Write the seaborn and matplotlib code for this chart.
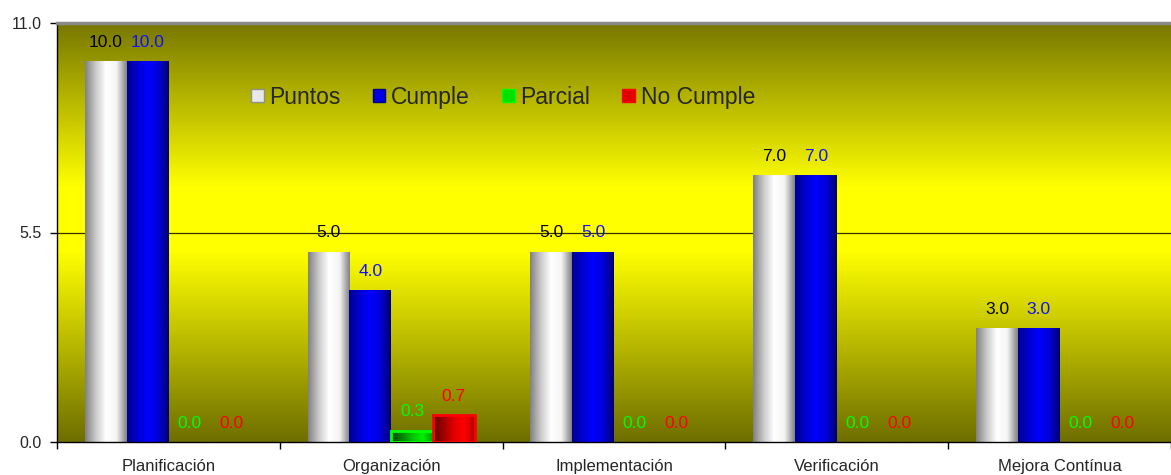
import numpy as np
import pandas as pd
import matplotlib
matplotlib.use("Agg")
import matplotlib.pyplot as plt
import seaborn as sns
from matplotlib.colors import LinearSegmentedColormap
from matplotlib.patches import Patch

categories = ["Planificación", "Organización", "Implementación", "Verificación", "Mejora Contínua"]
series_names = ["Puntos", "Cumple", "Parcial", "No Cumple"]
puntos = [10.0, 5.0, 5.0, 7.0, 3.0]
cumple = [10.0, 4.0, 5.0, 7.0, 3.0]
parcial = [0.0, 0.3, 0.0, 0.0, 0.0]
no_cumple = [0.0, 0.7, 0.0, 0.0, 0.0]
y_ticks = [0.0, 5.5, 11.0]

sns.set_theme(style="white")
plt.rcParams['font.family'] = ['Liberation Sans', 'DejaVu Sans']

rows = []
for name, vals in zip(series_names, [puntos, cumple, parcial, no_cumple]):
    for c, v in zip(categories, vals):
        rows.append({"cat": c, "serie": name, "val": v})
df = pd.DataFrame(rows)

mid_colors = {"Puntos": "#d0d0d0", "Cumple": "#0000e0", "Parcial": "#00c000", "No Cumple": "#d00000"}
label_colors = {"Puntos": "#000000", "Cumple": "#1010ff", "Parcial": "#00ff00", "No Cumple": "#ff0000"}
gradients = {
    "Puntos": ["#808080", "#c8c8c8", "#ffffff", "#f4f4f4", "#808080"],
    "Cumple": ["#000090", "#0000d0", "#0000ff", "#0000d8", "#000070"],
    "Parcial": ["#004000", "#008000", "#00c000", "#00f000", "#00a000"],
    "No Cumple": ["#600000", "#a00000", "#e00000", "#ff0000", "#b00000"],
}
edge_colors = {"Parcial": "#00ff00", "No Cumple": "#ff0000"}

fig = plt.figure(figsize=(11.71, 4.75), dpi=100)
ax = fig.add_axes([57/1171, 33/475, 1114/1171, 419/475])

sns.barplot(data=df, x="cat", y="val", hue="serie", hue_order=series_names,
            palette=mid_colors, width=0.75, saturation=1, ax=ax, legend=False,
            errorbar=None, zorder=2, linewidth=0, edgecolor="none")

ax.set_xlim(-0.5, len(categories) - 0.5)
ax.set_ylim(0, 11)

# background gradient
bg_cmap = LinearSegmentedColormap.from_list(
    "bg", [(0.0, "#6e6e00"), (5.0/11, "#ffff00"), (6.7/11, "#ffff00"), (1.0, "#777700")])
grad = np.linspace(0, 1, 512).reshape(-1, 1)
ax.imshow(grad, cmap=bg_cmap, aspect="auto", origin="lower",
          extent=[-0.5, len(categories) - 0.5, 0, 11], zorder=-2, interpolation="bilinear")
ax.axhline(5.5, color="#303000", lw=0.9, zorder=0.5)

# gradient fill of bars
for name, cont in zip(series_names, ax.containers):
    cmap = LinearSegmentedColormap.from_list(name, gradients[name])
    hg = np.linspace(0, 1, 256).reshape(1, -1)
    for bar in cont:
        h = bar.get_height()
        if h <= 0:
            continue
        x0 = bar.get_x(); w = bar.get_width()
        im = ax.imshow(hg, cmap=cmap, aspect="auto", extent=[x0, x0 + w, 0, h],
                       zorder=2.5, interpolation="bilinear")
        im.set_clip_path(bar)
        if name in edge_colors:
            bar.set_edgecolor(edge_colors[name])
            bar.set_linewidth(2)
            bar.set_facecolor("none")
            bar.set_zorder(3)
    ax.bar_label(cont, fmt="%.1f", padding=8, color=label_colors[name], fontsize=12.5, zorder=4)

ax.set_xlim(-0.5, len(categories) - 0.5)
ax.set_ylim(0, 11)

ax.set_yticks(y_ticks)
ax.set_yticklabels([f"{v:.1f}" for v in y_ticks], fontsize=11.5)
ax.set_xticks(range(len(categories)))
ax.set_xticklabels(categories, fontsize=12)
ax.set_xticks(np.arange(-0.5, len(categories)), minor=True)
ax.tick_params(axis="x", which="major", length=0, pad=12)
ax.tick_params(axis="x", which="minor", length=5, width=1, color="black", direction="out", bottom=True)
ax.tick_params(axis="y", length=5, width=1, color="black", direction="out", left=True, pad=6)
ax.set_xlabel("")
ax.set_ylabel("")
ax.grid(False)

for s in ["left", "bottom"]:
    ax.spines[s].set_color("black")
    ax.spines[s].set_linewidth(1)
ax.spines["top"].set_color("#8a8a8a")
ax.spines["top"].set_linewidth(2.5)
ax.spines["right"].set_visible(False)

handles = [Patch(facecolor="#e8e8e8", edgecolor="#909090", lw=1),
           Patch(facecolor="#0000e0", edgecolor="#000080", lw=1),
           Patch(facecolor="#00e000", edgecolor="#00ff00", lw=1),
           Patch(facecolor="#e00000", edgecolor="#ff0000", lw=1)]
ax.legend(handles, series_names, loc="center left", bbox_to_anchor=(0.166, 0.823),
          ncol=4, frameon=False, fontsize=16.5, handlelength=0.55, handleheight=0.55,
          handletextpad=0.25, columnspacing=1.4, borderaxespad=0)

fig.savefig("out.png", dpi=100)
